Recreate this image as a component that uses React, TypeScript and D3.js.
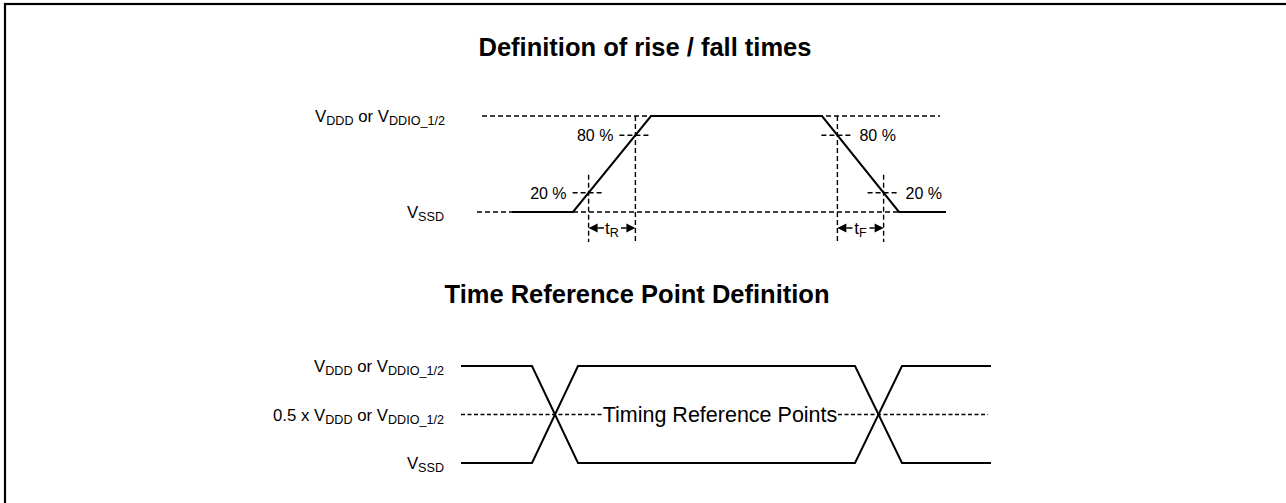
import React from 'react';
import * as d3 from 'd3';

const W = 1286;
const H = 503;

// rise / fall diagram: time axis in arbitrary units, level as fraction of VDDD
const riseFallTimes = [35, 96, 174, 345, 422, 469];
const riseFallLevels = [0, 0, 1, 1, 0, 0];
const thresholds = [0.2, 0.8];

// time reference diagram: two complementary signals
const refTimes = [0, 71, 117, 394, 441, 530];
const refLevelsA = [1, 1, 0, 0, 1, 1];
const refLevelsB = [0, 0, 1, 1, 0, 0];
const refMidLevel = 0.5;

const FONT = "'Liberation Sans', Arial, Helvetica, sans-serif";

type Pt = [number, number];

const VddLabel = ({ x, y, size, prefix }: { x: number; y: number; size: number; prefix?: string }) => (
  <text x={x} y={y} textAnchor="end" fontSize={size} fontFamily={FONT}>
    {prefix ? <tspan>{prefix}</tspan> : null}
    <tspan>V</tspan>
    <tspan fontSize={size * 0.75} dy={size * 0.2}>DDD</tspan>
    <tspan dy={-size * 0.2}> or V</tspan>
    <tspan fontSize={size * 0.75} dy={size * 0.2}>DDIO_1/2</tspan>
  </text>
);

const VssLabel = ({ x, y, size }: { x: number; y: number; size: number }) => (
  <text x={x} y={y} textAnchor="end" fontSize={size} fontFamily={FONT}>
    <tspan>V</tspan>
    <tspan fontSize={size * 0.75} dy={size * 0.2}>SSD</tspan>
  </text>
);

const App = () => {
  const line = d3.line<Pt>();

  // ---- top: rise / fall times
  const xTop = d3.scaleLinear().domain([0, 469]).range([477, 946]);
  const yTop = d3.scaleLinear().domain([0, 1]).range([212, 116]);
  const topWave: Pt[] = riseFallTimes.map((t, i) => [xTop(t), yTop(riseFallLevels[i])]);

  const riseAt = (l: number) => riseFallTimes[1] + l * (riseFallTimes[2] - riseFallTimes[1]);
  const fallAt = (l: number) => riseFallTimes[3] + (1 - l) * (riseFallTimes[4] - riseFallTimes[3]);
  const crossings = thresholds.flatMap((l) => [
    { l, x: xTop(riseAt(l)), y: yTop(l), side: 'rise' },
    { l, x: xTop(fallAt(l)), y: yTop(l), side: 'fall' },
  ]);
  const arrowY = yTop(0) + 16;
  const vBottom = yTop(0) + 30;

  const arrow = (x1: number, x2: number, label: string, key: string) => {
    const mid = (x1 + x2) / 2;
    const ah = 9;
    return (
      <g key={key}>
        <path d={`M${x1},${arrowY}L${x1 + ah},${arrowY - 4.5}L${x1 + ah},${arrowY + 4.5}Z`} fill="#000" />
        <path d={`M${x2},${arrowY}L${x2 - ah},${arrowY - 4.5}L${x2 - ah},${arrowY + 4.5}Z`} fill="#000" />
        <path d={line([[x1 + ah, arrowY], [mid - 8, arrowY]]) ?? ''} stroke="#000" strokeWidth={1.5} />
        <path d={line([[mid + 9, arrowY], [x2 - ah, arrowY]]) ?? ''} stroke="#000" strokeWidth={1.5} />
        <text x={mid} y={arrowY + 6} textAnchor="middle" fontSize={17} fontFamily={FONT}>
          <tspan>t</tspan>
          <tspan fontSize={12.5} dy={3}>{label}</tspan>
        </text>
      </g>
    );
  };

  // ---- bottom: time reference points
  const xRef = d3.scaleLinear().domain([0, 530]).range([461, 991]);
  const yRef = d3.scaleLinear().domain([0, 1]).range([463, 366]);
  const waveA: Pt[] = refTimes.map((t, i) => [xRef(t), yRef(refLevelsA[i])]);
  const waveB: Pt[] = refTimes.map((t, i) => [xRef(t), yRef(refLevelsB[i])]);
  const yMid = yRef(refMidLevel);

  const dash = { stroke: '#000', strokeWidth: 1.4, strokeDasharray: '5,3', fill: 'none' };

  return (
    <svg width={W} height={H} style={{ position: 'absolute', left: 0, top: 0, background: '#fff' }}>
      <rect x={5} y={4} width={W + 20} height={H + 20} fill="none" stroke="#000" strokeWidth={2.2} />

      <text x={645} y={56} textAnchor="middle" fontSize={25.5} fontWeight="bold" fontFamily={FONT}>
        Definition of rise / fall times
      </text>

      {/* reference levels */}
      <path d={line([[xTop(5), yTop(1)], [xTop(463), yTop(1)]]) ?? ''} {...dash} />
      <path d={line([[xTop(0), yTop(0)], [xTop(469), yTop(0)]]) ?? ''} {...dash} />

      {/* threshold markers */}
      {crossings.map((c, i) => (
        <g key={i}>
          <path d={line([[c.x, c.l > 0.5 ? yTop(1) : c.y - 18], [c.x, vBottom]]) ?? ''} {...dash} />
          <path d={line([[c.x - 16, c.y], [c.x + 14, c.y]]) ?? ''} {...dash} />
          <text
            x={c.side === 'rise' ? c.x - 22 : c.x + 22}
            y={c.y + 6}
            textAnchor={c.side === 'rise' ? 'end' : 'start'}
            fontSize={16}
            fontFamily={FONT}
          >
            {`${Math.round(c.l * 100)} %`}
          </text>
        </g>
      ))}

      <path d={line(topWave) ?? ''} stroke="#000" strokeWidth={2} fill="none" />

      {arrow(xTop(riseAt(0.2)), xTop(riseAt(0.8)), 'R', 'r')}
      {arrow(xTop(fallAt(0.8)), xTop(fallAt(0.2)), 'F', 'f')}

      <VddLabel x={445} y={yTop(1) + 6} size={16.8} />
      <VssLabel x={444} y={yTop(0) + 6} size={16.8} />

      {/* time reference point definition */}
      <text x={637} y={303} textAnchor="middle" fontSize={25.5} fontWeight="bold" fontFamily={FONT}>
        Time Reference Point Definition
      </text>

      <path d={line([[xRef(0), yMid], [xRef(141), yMid]]) ?? ''} {...dash} strokeDasharray="4,2.5" />
      <path d={line([[xRef(377), yMid], [xRef(527), yMid]]) ?? ''} {...dash} strokeDasharray="4,2.5" />
      <text x={xRef(259)} y={yMid + 7} textAnchor="middle" fontSize={21.5} fontFamily={FONT}>
        Timing Reference Points
      </text>

      <path d={line(waveA) ?? ''} stroke="#000" strokeWidth={2} fill="none" />
      <path d={line(waveB) ?? ''} stroke="#000" strokeWidth={2} fill="none" />

      <VddLabel x={444} y={yRef(1) + 6} size={16.8} />
      <VddLabel x={444} y={yMid + 6} size={16.8} prefix="0.5 x " />
      <VssLabel x={444} y={yRef(0) + 6} size={16.8} />
    </svg>
  );
};

export default App;
